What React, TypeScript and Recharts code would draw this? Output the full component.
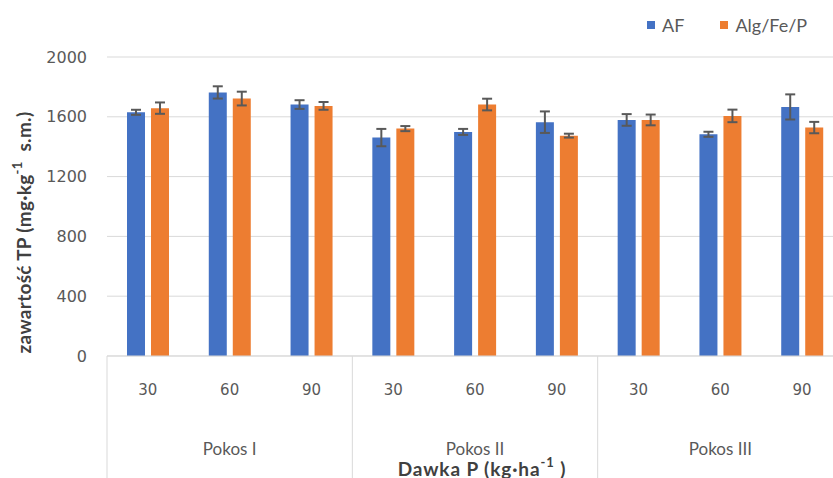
import React from 'react';
import { BarChart, Bar, XAxis, YAxis, CartesianGrid, Legend, ErrorBar } from 'recharts';

// Phosphorus dose (kg·ha⁻¹) per cut, three doses per cut
const doses = ['30', '60', '90', '30', '60', '90', '30', '60', '90'];
const cuts = ['Pokos I', 'Pokos II', 'Pokos III'];

// Total phosphorus content (mg·kg⁻¹ s.m.) and standard deviations
const afValues = [1630, 1763, 1682, 1461, 1499, 1564, 1579, 1483, 1666];
const afErrors = [17, 41, 29, 58, 20, 72, 39, 17, 84];
const algValues = [1658, 1722, 1673, 1521, 1682, 1474, 1579, 1606, 1528];
const algErrors = [38, 46, 26, 17, 39, 13, 36, 42, 38];

const yTicks = [0, 400, 800, 1200, 1600, 2000];

const seriesNames = { af: 'AF', alg: 'Alg/Fe/P' };
const colors = { af: '#4472C4', alg: '#ED7D31' };

const data = doses.map((dose, i) => ({
  key: `${cuts[Math.floor(i / 3)]}-${dose}`,
  dose,
  cut: cuts[Math.floor(i / 3)],
  af: afValues[i],
  afErr: afErrors[i],
  alg: algValues[i],
  algErr: algErrors[i],
}));

const textColor = '#595959';
const lineColor = '#d9d9d9';
const sans = 'Lato, "Open Sans", sans-serif';
const digits = '"DejaVu Sans", sans-serif';

const CHART_W = 850;
const CHART_H = 478;
const PLOT_W = 736;

function DoseTick(props: any) {
  const { x, y, payload, index } = props;
  const half = payload && payload.offset ? payload.offset : PLOT_W / data.length / 2;
  const row = data[index] || data[0];
  const inGroup = index % 3;
  return (
    <g>
      <text x={x} y={y + 34} textAnchor="middle" dominantBaseline="central" fill={textColor} fontFamily={digits} fontSize={15}>
        {row.dose}
      </text>
      {inGroup === 1 && (
        <text x={x} y={y + 92} textAnchor="middle" dominantBaseline="central" fill={textColor} fontFamily={sans} fontSize={17}>
          {row.cut}
        </text>
      )}
      {inGroup === 0 && <line x1={x - half} y1={y} x2={x - half} y2={y + 122} stroke={lineColor} strokeWidth={1} />}
      {index === data.length - 1 && <line x1={x + half} y1={y} x2={x + half} y2={y + 122} stroke={lineColor} strokeWidth={1} />}
    </g>
  );
}

function XTitle(props: any) {
  const { viewBox } = props;
  const cx = viewBox.x + viewBox.width / 2 + 7;
  const cy = viewBox.y + 112;
  return (
    <text x={cx} y={cy} textAnchor="middle" dominantBaseline="central" fill="#404040" fontFamily={sans} fontSize={19} fontWeight={700} letterSpacing={0.9}>
      Dawka P (kg·ha
      <tspan dy={-6} fontSize={13}>-1</tspan>
      <tspan dy={6}> )</tspan>
    </text>
  );
}

function YTitle(props: any) {
  const { viewBox } = props;
  const cx = viewBox.x + 23;
  const cy = viewBox.y + viewBox.height / 2 + 26;
  return (
    <text
      x={cx}
      y={cy}
      transform={`rotate(-90, ${cx}, ${cy})`}
      textAnchor="middle"
      dominantBaseline="central"
      fill="#404040"
      fontFamily={sans}
      fontSize={19}
      fontWeight={700}
      letterSpacing={0.3}
    >
      zawartość TP (mg·kg
      <tspan dy={-6} fontSize={13}>-1</tspan>
      <tspan dy={6}>{'\u00a0 s.m.)'}</tspan>
    </text>
  );
}

function LegendContent() {
  const items = [
    { name: seriesNames.af, color: colors.af },
    { name: seriesNames.alg, color: colors.alg },
  ];
  return (
    <div style={{ display: 'flex', alignItems: 'center', fontFamily: sans, fontSize: 18, color: textColor, whiteSpace: 'nowrap' }}>
      {items.map((it, i) => (
        <div key={it.name} style={{ display: 'flex', alignItems: 'center', marginRight: i === 0 ? 36 : 0 }}>
          <span style={{ display: 'inline-block', width: 8, height: 8, background: it.color, marginRight: 7 }} />
          <span>{it.name}</span>
        </div>
      ))}
    </div>
  );
}

export default function App() {
  return (
    <div style={{ position: 'absolute', left: 0, top: 0, width: 833, height: 478, overflow: 'hidden', background: '#fff' }}>
      <BarChart
        width={CHART_W}
        height={CHART_H}
        data={data}
        margin={{ top: 57, right: CHART_W - 107 - PLOT_W, bottom: 0, left: 0 }}
        barSize={18}
        barGap={6}
      >
        <CartesianGrid vertical={false} stroke={lineColor} strokeWidth={1} />
        <XAxis
          dataKey="key"
          interval={0}
          height={122}
          tickLine={false}
          tickSize={0}
          tickMargin={0}
          axisLine={{ stroke: lineColor }}
          tick={<DoseTick />}
          label={<XTitle />}
        />
        <YAxis
          domain={[0, 2000]}
          ticks={yTicks}
          width={107}
          tickLine={false}
          axisLine={false}
          tickSize={0}
          tickMargin={20}
          tick={{ fill: textColor, fontFamily: digits, fontSize: 16 }}
          label={<YTitle />}
        />
        <Legend
          verticalAlign="middle"
          align="center"
          layout="horizontal"
          wrapperStyle={{ top: 14, left: 647, width: 'auto', height: 'auto' }}
          content={<LegendContent />}
        />
        <Bar dataKey="af" name={seriesNames.af} fill={colors.af} isAnimationActive={false}>
          <ErrorBar dataKey="afErr" width={5} stroke="#595959" strokeWidth={2} direction="y" />
        </Bar>
        <Bar dataKey="alg" name={seriesNames.alg} fill={colors.alg} isAnimationActive={false}>
          <ErrorBar dataKey="algErr" width={5} stroke="#595959" strokeWidth={2} direction="y" />
        </Bar>
      </BarChart>
    </div>
  );
}
